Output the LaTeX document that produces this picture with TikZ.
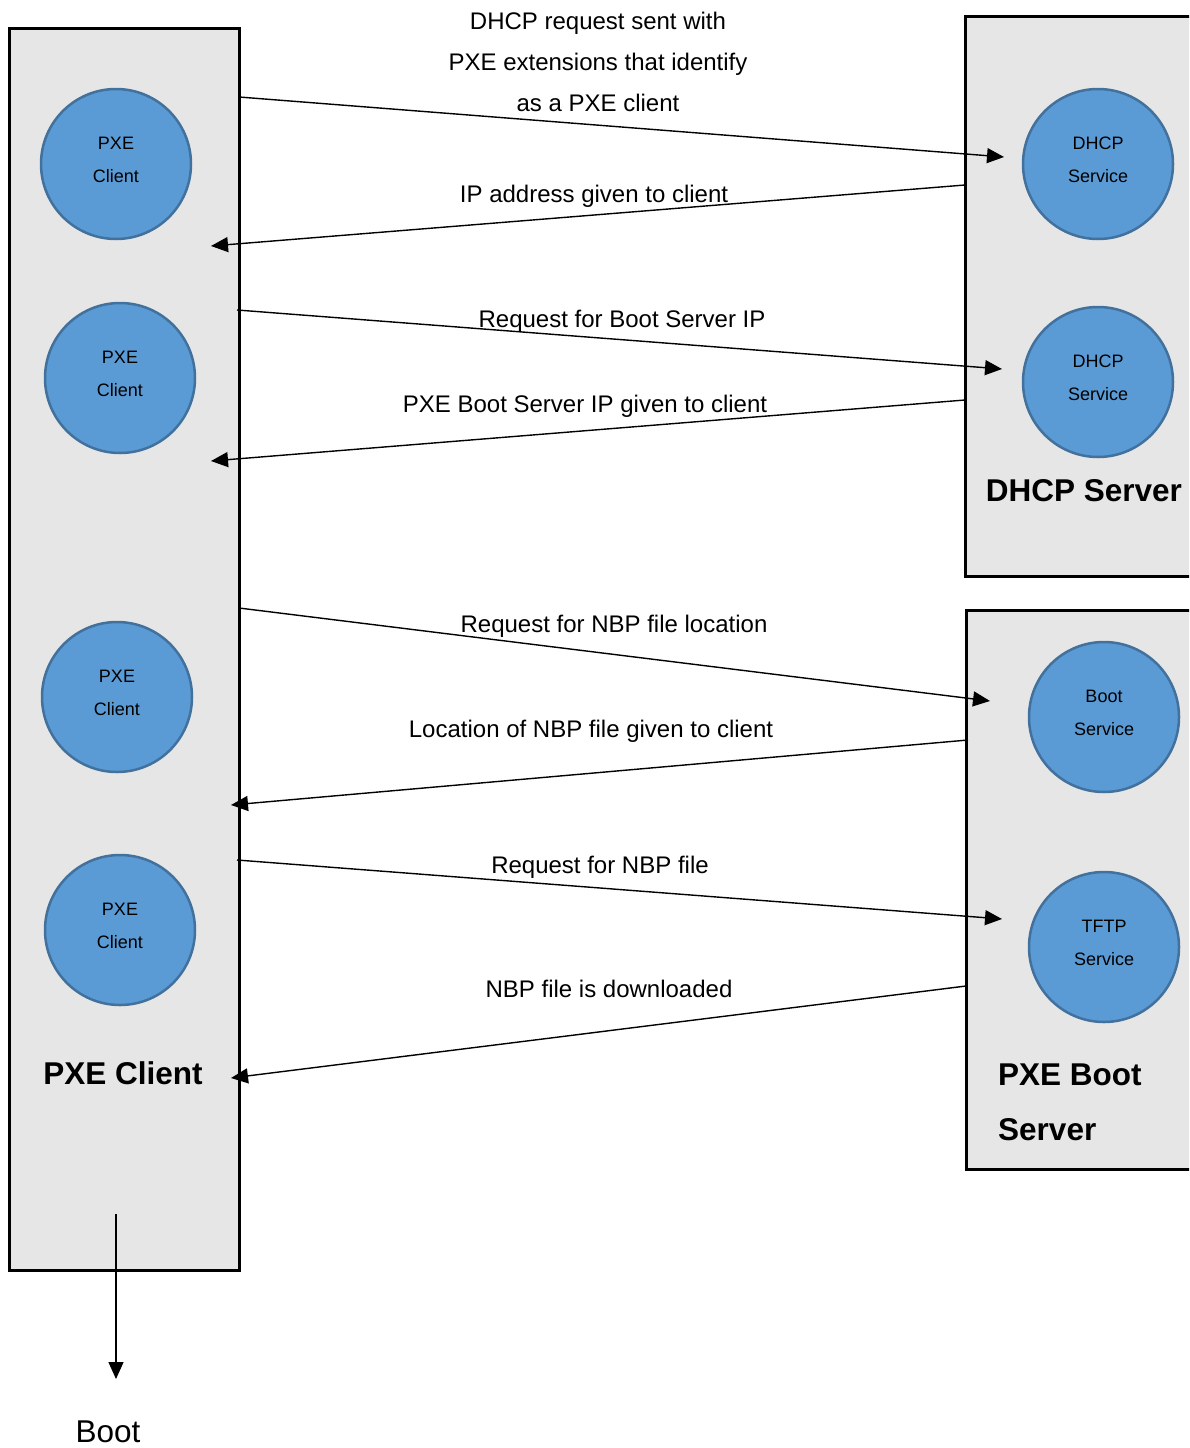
\documentclass[tikz,border=0pt]{standalone}
\usepackage{fontspec}
\setmainfont{Liberation Sans}
\usetikzlibrary{arrows.meta}
\definecolor{panelgray}{RGB}{230,230,230}
\definecolor{svcfill}{RGB}{91,155,213}
\definecolor{svcline}{RGB}{65,113,156}
\tikzset{
  panel/.style={draw=black, line width=3pt, fill=panelgray},
  svc/.style={circle, draw=svcline, line width=2.5pt, fill=svcfill, minimum size=150pt, inner sep=0pt},
  svctext/.style={align=center, font=\fontsize{18}{33}\selectfont},
  msg/.style={draw=black, line width=1.4pt, -{Triangle[length=17pt,width=15pt]}},
  msgtext/.style={font=\fontsize{24}{41}\selectfont, align=center, inner sep=0pt},
  paneltitle/.style={font=\bfseries\fontsize{31.5}{55}\selectfont, inner sep=0pt}
}
\begin{document}
\begin{tikzpicture}[x=1pt, y=-1pt]
\useasboundingbox (0,0) rectangle (1189,1448);
\clip (0,0) rectangle (1189,1448);

% panels
\path[panel] (9,28) rectangle (239,1270);
\path[panel] (965,16) rectangle (1210,576);
\path[panel] (966,610) rectangle (1210,1169);

% client-side circles
\node[svc, label={[svctext, yshift=4pt]center:PXE\\Client}] (c1) at (116,164) {};
\node[svc, label={[svctext, yshift=4pt]center:PXE\\Client}] (c2) at (120,378) {};
\node[svc, label={[svctext, yshift=4pt]center:PXE\\Client}] (c3) at (117,697) {};
\node[svc, label={[svctext, yshift=4pt]center:PXE\\Client}] (c4) at (120,930) {};

% server-side circles
\node[svc, label={[svctext, yshift=4pt]center:DHCP\\Service}] (d1) at (1098,164) {};
\node[svc, label={[svctext, yshift=4pt]center:DHCP\\Service}] (d2) at (1098,382) {};
\node[svc, label={[svctext, yshift=4pt]center:Boot\\Service}] (b1) at (1104,717) {};
\node[svc, label={[svctext, yshift=4pt]center:TFTP\\Service}] (t1) at (1104,947) {};

% panel titles
\node[paneltitle] (dhcptitle) at (1084,491) {DHCP Server};
\node[paneltitle] (clienttitle) at (123,1073) {PXE Client};
\node[paneltitle, anchor=west, align=left] (boottitle) at (998,1102) {PXE Boot\\Server};

% message end points
\coordinate (m1s) at (239,97);   \coordinate (m1e) at (1004,157);
\coordinate (m2s) at (965,185);  \coordinate (m2e) at (211,246);
\coordinate (m3s) at (237,310);  \coordinate (m3e) at (1002,369);
\coordinate (m4s) at (965,400);  \coordinate (m4e) at (211,461);
\coordinate (m5s) at (239,608);  \coordinate (m5e) at (990,701);
\coordinate (m6s) at (968,740);  \coordinate (m6e) at (231,805);
\coordinate (m7s) at (237,860);  \coordinate (m7e) at (1002,919);
\coordinate (m8s) at (966,986);  \coordinate (m8e) at (231,1078);
\coordinate (bs) at (116,1214);  \coordinate (be) at (116,1379);

% messages
\draw[msg] (m1s) -- (m1e);
\draw[msg] (m2s) -- (m2e);
\draw[msg] (m3s) -- (m3e);
\draw[msg] (m4s) -- (m4e);
\draw[msg] (m5s) -- (m5e);
\draw[msg] (m6s) -- (m6e);
\draw[msg] (m7s) -- (m7e);
\draw[msg] (m8s) -- (m8e);
\draw[msg] (bs) -- (be);

% message labels
\node[msgtext] (l1) at (598,62) {DHCP request sent with\\PXE extensions that identify\\as a PXE client};
\node[msgtext] (l2) at (594,196.5) {IP address given to client};
\node[msgtext] (l3) at (622,321.5) {Request for Boot Server IP};
\node[msgtext] (l4) at (585,406.5) {PXE Boot Server IP given to client};
\node[msgtext] (l5) at (614,626.5) {Request for NBP file location};
\node[msgtext] (l6) at (591,731.5) {Location of NBP file given to client};
\node[msgtext] (l7) at (600,867.5) {Request for NBP file};
\node[msgtext] (l8) at (609,989) {NBP file is downloaded};
\node[font=\fontsize{31.5}{36}\selectfont, inner sep=0pt] (boot) at (108,1432) {Boot};
\end{tikzpicture}
\end{document}
